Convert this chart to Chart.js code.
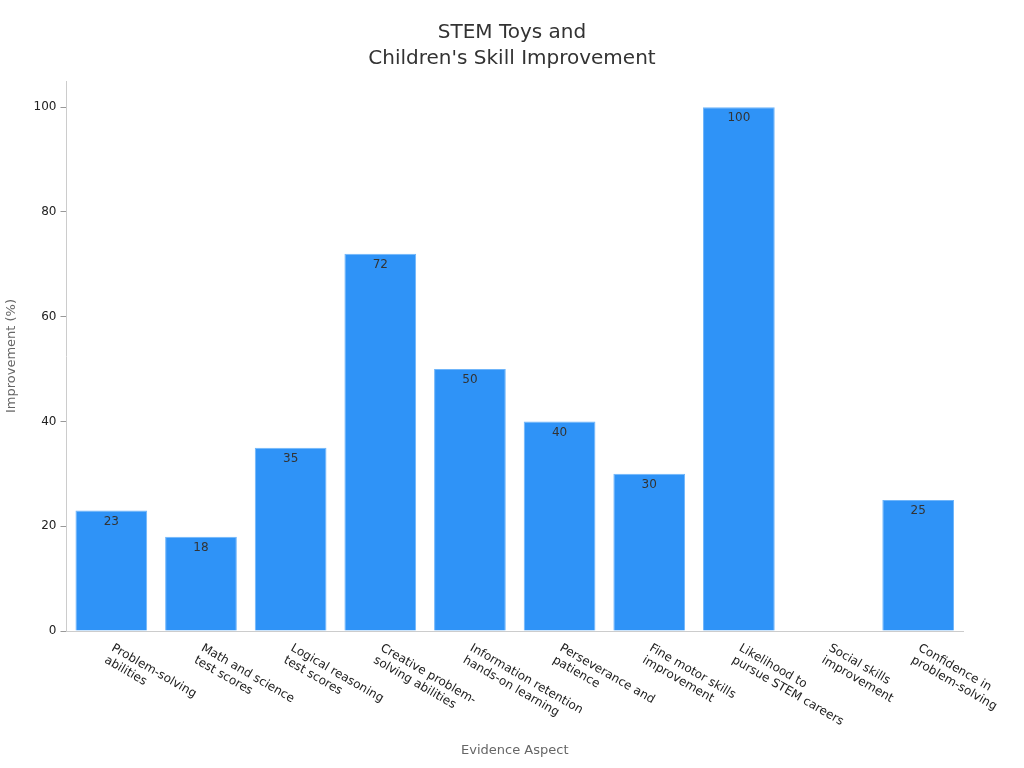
<!DOCTYPE html>
<html><head><meta charset="utf-8">
<script src="https://cdn.jsdelivr.net/npm/chart.js@4"></script>
<style>html,body{margin:0;background:#fff}#w{width:1024px;height:768px}</style></head>
<body><div id="w"><canvas id="c"></canvas></div>
<script>
const categories = [["Problem-solving","abilities"],["Math and science","test scores"],["Logical reasoning","test scores"],["Creative problem-","solving abilities"],["Information retention","hands-on learning"],["Perseverance and","patience"],["Fine motor skills","improvement"],["Likelihood to","pursue STEM careers"],["Social skills","improvement"],["Confidence in","problem-solving"]];
const values = [23,18,35,72,50,40,30,100,0,25];
const yTicks = [0,20,40,60,80,100];
const titleLines = ["STEM Toys and","Children's Skill Improvement"];
const F = "'DejaVu Sans', sans-serif";
const plug = {
  id:'p',
  afterDraw(ch){
    const c=ch.ctx, xs=ch.scales.x, ys=ch.scales.y;
    c.save();
    c.font="20px "+F; c.fillStyle="#333"; c.textAlign="center"; c.textBaseline="middle";
    titleLines.forEach((t,j)=>c.fillText(t,512,33+j*26));
    c.font="12px "+F; c.fillStyle="#222"; c.textAlign="left"; c.textBaseline="top";
    categories.forEach((l,i)=>{
      const x=xs.getPixelForValue(i);
      c.save(); c.translate(x+4, ys.bottom+11); c.rotate(Math.PI/6);
      l.forEach((t,j)=>c.fillText(t,0,j*14));
      c.restore();
    });
    c.fillStyle="#333"; c.textAlign="center";
    const m=ch.getDatasetMeta(0);
    m.data.forEach((b,i)=>{ if(values[i]>0) c.fillText(values[i], b.x, b.y+5); });
    c.font="13px "+F; c.fillStyle="#666";
    c.fillText("Evidence Aspect", (xs.left+xs.right)/2, 744);
    c.restore();
  }
};
new Chart(document.getElementById('c'),{
  type:'bar',
  data:{labels:categories.map(l=>l.join(' ')),datasets:[{data:values,backgroundColor:'#2f93f7',borderColor:'#6fb5fa',borderWidth:1,categoryPercentage:0.8,barPercentage:1}]},
  options:{responsive:true,maintainAspectRatio:false,animation:false,
    layout:{padding:{left:0,right:61,top:81,bottom:129}},
    plugins:{legend:{display:false},tooltip:{enabled:false},title:{display:false}},
    scales:{
      x:{grid:{display:false},border:{color:'#ccc'},ticks:{display:false}},
      y:{min:0,max:105,afterBuildTicks:s=>{s.ticks=yTicks.map(v=>({value:v}))},grid:{display:true,drawOnChartArea:false,drawTicks:true,tickLength:6,color:'#999'},border:{color:'#ccc'},
        ticks:{color:'#222',font:{family:F,size:12},padding:4},
        title:{display:true,text:'Improvement (%)',color:'#666',font:{family:F,size:13},padding:{top:4,bottom:10}}}
    }}
  ,plugins:[plug]});
</script></body></html>
